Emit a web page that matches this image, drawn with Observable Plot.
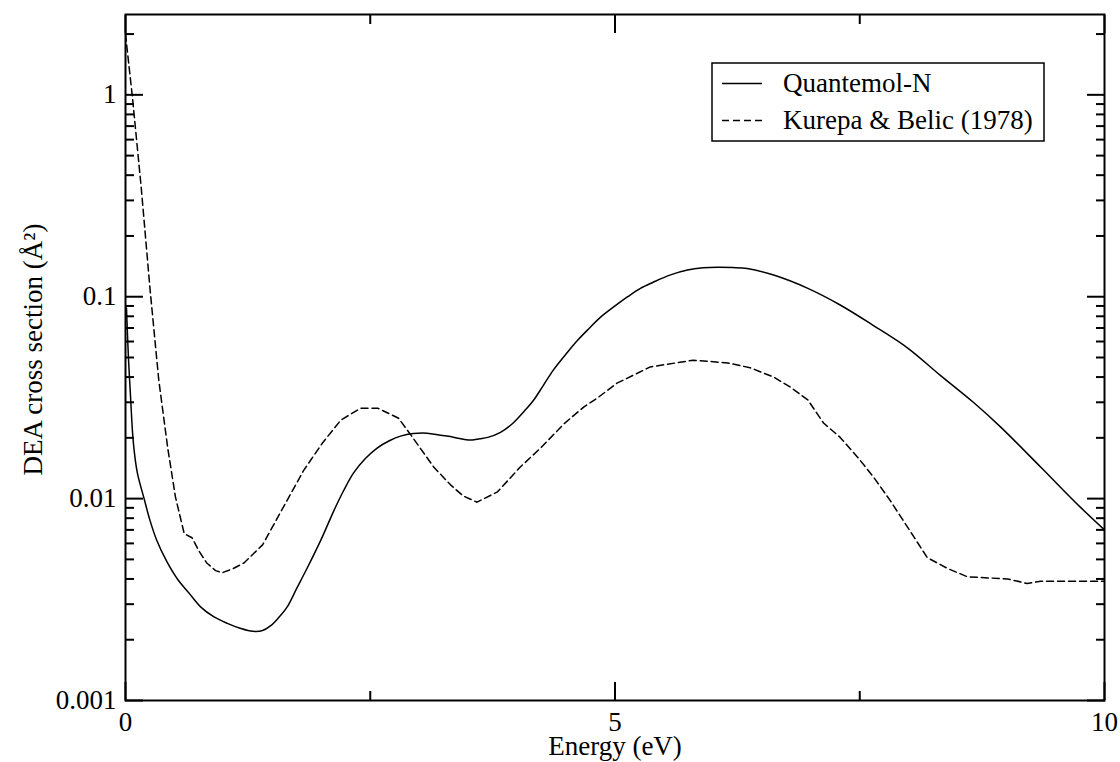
<!DOCTYPE html>
<html>
<head>
<meta charset="utf-8">
<script src="https://cdn.jsdelivr.net/npm/d3@7"></script>
<script src="https://cdn.jsdelivr.net/npm/@observablehq/plot@0.6"></script>
<style>
  html, body { margin: 0; padding: 0; background: #fff; }
  #chart svg { display: block; }
</style>
</head>
<body>
<div id="chart"></div>
<script>
// ---- Data ----
const seriesNames = ["Quantemol-N", "Kurepa & Belic (1978)"];

// Quantemol-N (solid)
const qnEnergy = [0.01, 0.03, 0.05, 0.08, 0.12, 0.19, 0.25, 0.32, 0.42, 0.53, 0.65, 0.77, 0.90, 1.04, 1.17, 1.30, 1.40, 1.48, 1.56, 1.65, 1.75, 1.86, 2.00, 2.13, 2.23, 2.33, 2.45, 2.57, 2.70, 2.81, 2.94, 3.08, 3.22, 3.36, 3.50, 3.62, 3.70, 3.83, 3.96, 4.07, 4.17, 4.27, 4.37, 4.50, 4.62, 4.74, 4.85, 5.00, 5.13, 5.26, 5.39, 5.56, 5.74, 5.90, 6.05, 6.20, 6.35, 6.62, 6.97, 7.30, 7.64, 7.99, 8.32, 8.66, 8.94, 9.35, 9.75, 10.0];
const qnSigma = [0.088, 0.05, 0.033, 0.019, 0.0135, 0.0100, 0.0078, 0.0062, 0.0049, 0.0040, 0.0034, 0.0029, 0.0026, 0.00241, 0.00228, 0.00220, 0.00222, 0.00234, 0.00256, 0.0029, 0.0036, 0.00457, 0.0063, 0.00875, 0.0110, 0.0134, 0.0158, 0.0178, 0.0194, 0.0204, 0.0210, 0.0211, 0.0206, 0.0201, 0.0195, 0.0198, 0.0201, 0.0213, 0.0237, 0.0270, 0.0308, 0.0365, 0.0433, 0.052, 0.061, 0.070, 0.079, 0.090, 0.100, 0.110, 0.118, 0.128, 0.1356, 0.139, 0.140, 0.1395, 0.138, 0.128, 0.110, 0.091, 0.072, 0.0557, 0.0409, 0.030, 0.0226, 0.0143, 0.0091, 0.0070];

// Kurepa & Belic (1978) (dashed)
const kbEnergy = [0.00, 0.07, 0.16, 0.25, 0.34, 0.43, 0.51, 0.60, 0.68, 0.75, 0.83, 0.92, 0.99, 1.10, 1.21, 1.40, 1.58, 1.82, 2.01, 2.20, 2.40, 2.58, 2.79, 2.92, 3.15, 3.32, 3.45, 3.59, 3.80, 4.03, 4.24, 4.48, 4.68, 4.82, 5.02, 5.36, 5.80, 6.15, 6.38, 6.62, 6.79, 6.97, 7.13, 7.30, 7.48, 7.64, 7.81, 7.99, 8.19, 8.40, 8.60, 9.01, 9.21, 9.35, 10.0];
const kbSigma = [2.0, 0.98, 0.35, 0.11, 0.0386, 0.018, 0.0102, 0.0067, 0.0064, 0.0055, 0.0048, 0.0044, 0.0043, 0.0045, 0.0048, 0.0059, 0.0085, 0.0138, 0.0188, 0.0245, 0.028, 0.028, 0.025, 0.0205, 0.0143, 0.0117, 0.0103, 0.0096, 0.0108, 0.0143, 0.0178, 0.0235, 0.0284, 0.0315, 0.0373, 0.0449, 0.0485, 0.047, 0.0445, 0.040, 0.0357, 0.0308, 0.0237, 0.0201, 0.016, 0.0128, 0.0098, 0.0072, 0.0051, 0.0045, 0.0041, 0.0040, 0.0038, 0.0039, 0.0039];

// Ticks
const xMajorTicks = [0, 5, 10];
const xTickLabels = ["0", "5", "10"];
const xMinorTicks = [2.5, 7.5];
const yMajorTicks = [0.001, 0.01, 0.1, 1];
const yTickLabels = ["0.001", "0.01", "0.1", "1"];
const yMinorTicks = [0.002, 0.003, 0.004, 0.005, 0.006, 0.007, 0.008, 0.009,
                     0.02, 0.03, 0.04, 0.05, 0.06, 0.07, 0.08, 0.09,
                     0.2, 0.3, 0.4, 0.5, 0.6, 0.7, 0.8, 0.9, 2];

const xLabel = "Energy (eV)";
const yLabel = "DEA cross section (Å²)";

// ---- Build ----
const qn = qnEnergy.map((e, i) => ({e, s: qnSigma[i]}));
const kb = kbEnergy.map((e, i) => ({e, s: kbSigma[i]}));

const font = "'Liberation Serif', 'Times New Roman', serif";
const FS = 27;
const dash = "7,4";

const plot = Plot.plot({
  width: 1120,
  height: 762,
  marginLeft: 125,
  marginRight: 16,
  marginTop: 14,
  marginBottom: 62,
  style: {fontFamily: font, fontSize: FS + "px", background: "#fff", color: "#000"},
  x: {domain: [0, 10]},
  y: {type: "log", domain: [0.001, 2.5]},
  marks: [
    // inward ticks
    Plot.axisY(yMajorTicks, {anchor: "left", tickSize: -18, fill: "none", strokeWidth: 2, label: null}),
    Plot.axisY(yMajorTicks, {anchor: "right", tickSize: -18, fill: "none", strokeWidth: 2, label: null}),
    Plot.axisY(yMinorTicks, {anchor: "left", tickSize: -9, fill: "none", strokeWidth: 2, label: null}),
    Plot.axisY(yMinorTicks, {anchor: "right", tickSize: -9, fill: "none", strokeWidth: 2, label: null}),
    Plot.axisX(xMajorTicks, {anchor: "bottom", tickSize: -18, fill: "none", strokeWidth: 2, label: null}),
    Plot.axisX(xMajorTicks, {anchor: "top", tickSize: -18, fill: "none", strokeWidth: 2, label: null}),
    Plot.axisX(xMinorTicks, {anchor: "bottom", tickSize: -9, fill: "none", strokeWidth: 2, label: null}),
    Plot.axisX(xMinorTicks, {anchor: "top", tickSize: -9, fill: "none", strokeWidth: 2, label: null}),
    // tick labels
    Plot.axisY(yMajorTicks, {anchor: "left", tickSize: 0, tickPadding: 9, fontSize: FS, label: null,
      tickFormat: d => yTickLabels[yMajorTicks.indexOf(d)]}),
    Plot.axisX(xMajorTicks, {anchor: "bottom", tickSize: 0, tickPadding: 11, fontSize: FS, label: null,
      tickFormat: d => xTickLabels[xMajorTicks.indexOf(d)]}),
    // axis titles
    Plot.text([xLabel], {text: d => d, frameAnchor: "bottom", textAnchor: "middle", lineAnchor: "middle", dy: 46, fontSize: FS}),
    Plot.text([yLabel], {text: d => d, frameAnchor: "left", textAnchor: "middle", lineAnchor: "middle", rotate: -90, dx: -92, dy: -8, fontSize: FS}),
    // data
    Plot.line(qn, {x: "e", y: "s", stroke: "#000", strokeWidth: 1.5, curve: "catmull-rom"}),
    Plot.line(kb, {x: "e", y: "s", stroke: "#000", strokeWidth: 1.5, strokeDasharray: dash}),
    Plot.frame({stroke: "#000", strokeWidth: 2})
  ]
});

// ---- Legend (inside plot, top-right) ----
const svg = d3.select(plot);
const lg = svg.append("g").attr("font-family", font).attr("font-size", FS).attr("text-anchor", "start");
lg.append("rect").attr("x", 712).attr("y", 63).attr("width", 332).attr("height", 78)
  .attr("fill", "#fff").attr("stroke", "#000").attr("stroke-width", 1.5);
const rows = [
  {name: seriesNames[0], y: 83.5, ty: 92, dash: null},
  {name: seriesNames[1], y: 120.5, ty: 129, dash: dash}
];
rows.forEach(r => {
  const ln = lg.append("line").attr("x1", 722).attr("x2", 762).attr("y1", r.y).attr("y2", r.y)
    .attr("stroke", "#000").attr("stroke-width", 1.5);
  if (r.dash) ln.attr("stroke-dasharray", r.dash);
  lg.append("text").attr("x", 783).attr("y", r.ty).attr("fill", "#000").attr("text-anchor", "start").text(r.name);
});

document.getElementById("chart").appendChild(plot);
</script>
</body>
</html>
